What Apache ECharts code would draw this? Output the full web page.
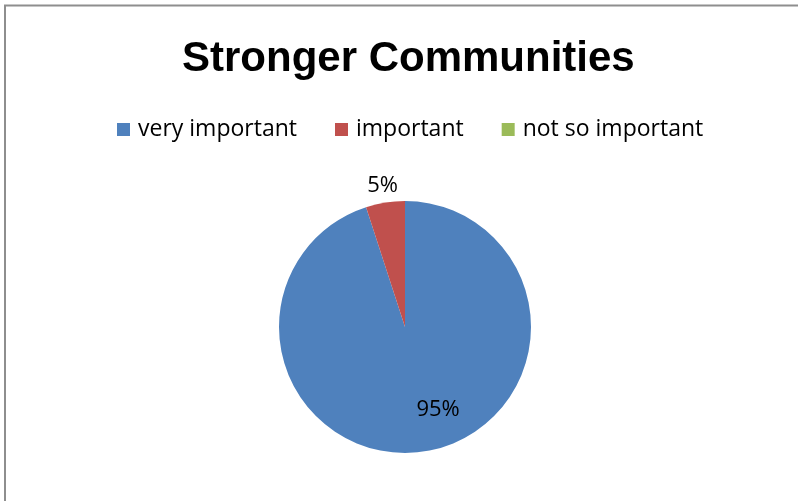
<!DOCTYPE html>
<html>
<head>
<meta charset="utf-8">
<script src="https://cdn.jsdelivr.net/npm/echarts@6/dist/echarts.min.js"></script>
<style>html,body{margin:0;padding:0;background:#fff;}#c{width:798px;height:501px;}</style>
</head>
<body>
<div id="c"></div>
<script>
var categories = ['very important', 'important', 'not so important'];
var values = [95, 5, 0];
var colors = ['#4F81BD', '#C0504D', '#9BBB59'];
var titleText = 'Stronger Communities';

var chart = echarts.init(document.getElementById('c'));
var mainData = categories.map(function (c, i) {
  return { name: c, value: values[i], itemStyle: { color: colors[i] } };
});
var innerLabelData = categories.map(function (c, i) {
  return { name: c, value: values[i], label: { show: i === 0 && values[i] > 0, offset: [19, -6] } };
});
var outerLabelData = categories.map(function (c, i) {
  return { name: c, value: values[i], label: { show: i === 1 && values[i] > 0 } };
});
var labelFont = { fontFamily: 'Open Sans', fontSize: 22, color: '#000' };
chart.setOption({
  animation: false,
  title: {
    text: titleText, left: 177, top: 33,
    textStyle: { fontFamily: 'Liberation Sans', fontWeight: 'bold', fontSize: 42, color: '#000' }
  },
  legend: {
    data: categories, left: 112, top: 113,
    itemWidth: 13, itemHeight: 13, itemGap: 38, icon: 'rect',
    textStyle: { fontFamily: 'Open Sans', fontSize: 23, color: '#000', padding: [0, 0, 0, 3] }
  },
  graphic: [{
    type: 'rect', silent: true,
    shape: { x: 5, y: 5.5, width: 900, height: 900 },
    style: { fill: 'none', stroke: '#8e8e8e', lineWidth: 2 }
  }],
  series: [{
    type: 'pie', center: [405, 327], radius: 126,
    startAngle: 90, clockwise: true, silent: true,
    data: mainData,
    label: { show: false },
    labelLine: { show: false },
    itemStyle: { borderWidth: 0 }
  }, {
    type: 'pie', center: [405, 327], radius: [0, 174],
    startAngle: 90, clockwise: true, silent: true, legendHoverLink: false,
    data: innerLabelData,
    itemStyle: { color: 'rgba(0,0,0,0)', borderWidth: 0 },
    label: Object.assign({ position: 'inside', formatter: '{d}%' }, labelFont),
    labelLine: { show: false }
  }, {
    type: 'pie', center: [405, 327], radius: [126, 154],
    startAngle: 90, clockwise: true, silent: true, legendHoverLink: false,
    data: outerLabelData,
    itemStyle: { color: 'rgba(0,0,0,0)', borderWidth: 0 },
    label: Object.assign({ position: 'inside', formatter: '{d}%' }, labelFont),
    labelLine: { show: false }
  }]
});
</script>
</body>
</html>
